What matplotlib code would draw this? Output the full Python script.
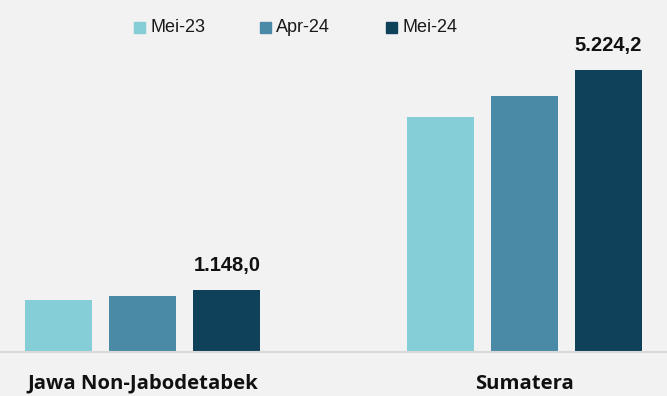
import numpy as np
import matplotlib.pyplot as plt
from matplotlib.patches import Rectangle

regions = ['Jawa Non-Jabodetabek', 'Sumatera']
periods = ['Mei-23', 'Apr-24', 'Mei-24']
mei23 = [958.0, 4359.0]
apr24 = [1032.0, 4748.0]
mei24 = [1148.0, 5224.2]

colors = ['#86ced7', '#4a8aa6', '#0f415a']
bg = '#f2f2f2'
W, H = 667, 396

fig = plt.figure(figsize=(W / 100, H / 100), dpi=100, facecolor=bg)
ax = fig.add_axes([0, 44 / H, 1, 352 / H], facecolor=bg)

x = np.arange(len(regions))
step = 84 / 381
width = 67 / 381

for i, (vals, c) in enumerate(zip([mei23, apr24, mei24], colors)):
    ax.bar(x + (i - 1) * step, vals, width, color=c, label=periods[i])

# label only the latest period, Indonesian number format
for xi, v in zip(x, mei24):
    txt = f'{v:,.1f}'.replace(',', 'X').replace('.', ',').replace('X', '.')
    ax.annotate(txt, (xi + step, v), xytext=(0, 11), textcoords='offset points',
                ha='center', va='bottom', fontsize=14.5, fontweight='bold',
                family='Liberation Sans', color='#111111')

ax.axhline(0, color='#d9d9d9', lw=1.5, clip_on=False)
ax.set_xlim(-0.375, 1.375)
ax.set_ylim(0, 352 * 5224.2 / 282)
for s in ax.spines.values():
    s.set_visible(False)
ax.set_yticks([])
ax.set_xticks(x)
ax.set_xticklabels(regions, fontsize=14.6, fontweight='bold', family='Open Sans',
                   color='#111111')
ax.tick_params(axis='x', length=0, pad=15.5)

# legend row across the top
for i, (lab, c) in enumerate(zip(periods, colors)):
    x0 = 134 + 126 * i
    fig.add_artist(Rectangle((x0 / W, 1 - 33 / H), 11 / W, 11 / H,
                             color=c, transform=fig.transFigure))
    fig.text((x0 + 16) / W, 1 - 27.5 / H, lab, ha='left', va='center',
             fontsize=13, family='Liberation Sans', color='#1a1a1a')

fig.savefig('out.png', dpi=100, facecolor=bg)
